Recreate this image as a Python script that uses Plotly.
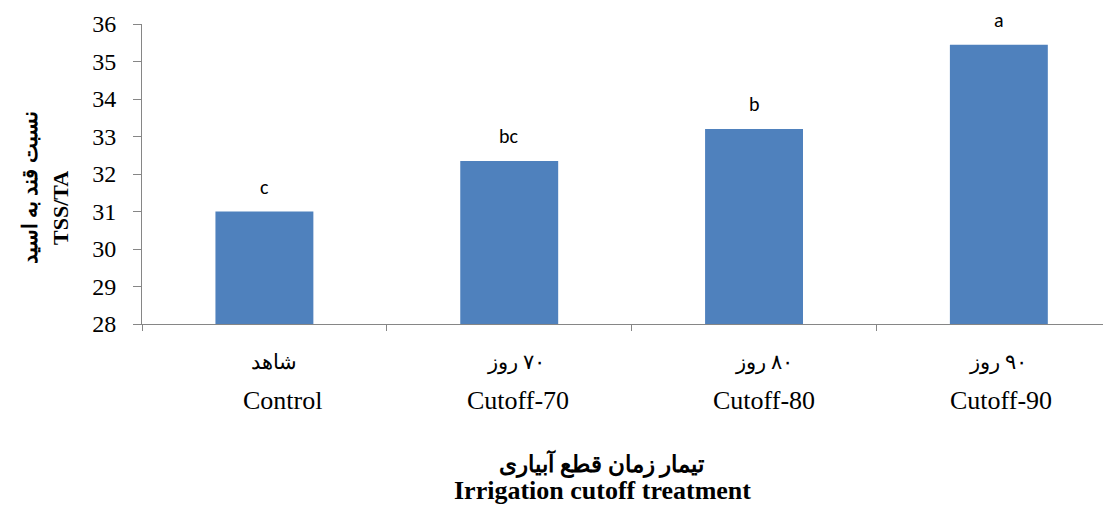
import plotly.graph_objects as go

categories = ["Control", "Cutoff-70", "Cutoff-80", "Cutoff-90"]
persian_labels = ["شاهد", "۷۰ روز", "۸۰ روز", "۹۰ روز"]
tss_ta = [31.0, 32.35, 33.2, 35.45]
letters = ["c", "bc", "b", "a"]

BAR_COLOR = "#4F81BD"
AXIS_COLOR = "#868686"
SERIF = "Liberation Serif, Times New Roman, serif"
RLE, PDF = "\u202b", "\u202c"

fig = go.Figure(go.Bar(
    x=categories,
    y=tss_ta,
    marker=dict(color=BAR_COLOR, line=dict(width=0)),
    width=0.4,
))

# significance letters above bars
for cat, val, letter in zip(categories, tss_ta, letters):
    fig.add_annotation(
        x=cat, y=val, text=letter, showarrow=False,
        yanchor="bottom", yshift=11,
        font=dict(family="Carlito, Lato, sans-serif", size=20, color="black"),
    )

# two-line category labels (Persian + English); the original labels sit
# slightly right of the bar centres
fa_nudge = [10, 7, 10, -1]
en_nudge = [18, 9, 10, 2]
for i, (cat, fa) in enumerate(zip(categories, persian_labels)):
    fig.add_annotation(
        x=cat, y=0, yref="paper", text=RLE + fa + PDF, showarrow=False,
        yanchor="middle", yshift=-38, xshift=fa_nudge[i],
        font=dict(family=SERIF, size=21, color="black"),
    )
    fig.add_annotation(
        x=cat, y=0, yref="paper", text=cat, showarrow=False,
        yanchor="middle", yshift=-76, xshift=en_nudge[i],
        font=dict(family=SERIF, size=26, color="black"),
    )

# x axis title
fig.add_annotation(
    x=0.5, y=0, xref="paper", yref="paper", text="<b>تیمار زمان قطع آبیاری</b>",
    showarrow=False, yanchor="middle", yshift=-140, xshift=-24,
    font=dict(family=SERIF, size=23, color="black"),
)
fig.add_annotation(
    x=0.5, y=0, xref="paper", yref="paper", text="<b>Irrigation cutoff treatment</b>",
    showarrow=False, yanchor="middle", yshift=-166, xshift=-24,
    font=dict(family=SERIF, size=26, color="black"),
)

# y axis title (two rotated lines)
fig.add_annotation(
    x=0, y=0.5, xref="paper", yref="paper", text="<b>نسبت قند به اسید</b>",
    showarrow=False, textangle=-90, xanchor="center", yanchor="middle",
    xshift=-112, yshift=-14,
    font=dict(family=SERIF, size=21, color="black"),
)
fig.add_annotation(
    x=0, y=0.5, xref="paper", yref="paper", text="<b>TSS/TA</b>",
    showarrow=False, textangle=-90, xanchor="center", yanchor="middle",
    xshift=-82, yshift=-34,
    font=dict(family=SERIF, size=22, color="black"),
)

# last category runs past the right edge in the reference
fig.update_xaxes(
    range=[-0.5, 3.454],
    showticklabels=False,
    tickson="boundaries",
    ticks="outside", ticklen=6, tickcolor=AXIS_COLOR,
    showline=True, linecolor=AXIS_COLOR, linewidth=1,
    showgrid=False,
)
fig.update_yaxes(
    range=[28, 36], dtick=1,
    ticks="outside", ticklen=8, tickcolor=AXIS_COLOR,
    ticklabelstandoff=12,
    showline=True, linecolor=AXIS_COLOR, linewidth=1,
    showgrid=False, zeroline=False,
    tickfont=dict(family=SERIF, size=24, color="black"),
)

# page body has an 8px default margin, so the figure is 8px smaller
fig.update_layout(
    width=1103, height=498,
    margin=dict(l=134, r=1, t=16, b=182),
    plot_bgcolor="white", paper_bgcolor="white",
    bargap=0.6,
    showlegend=False,
)

fig.write_html("out.html")
